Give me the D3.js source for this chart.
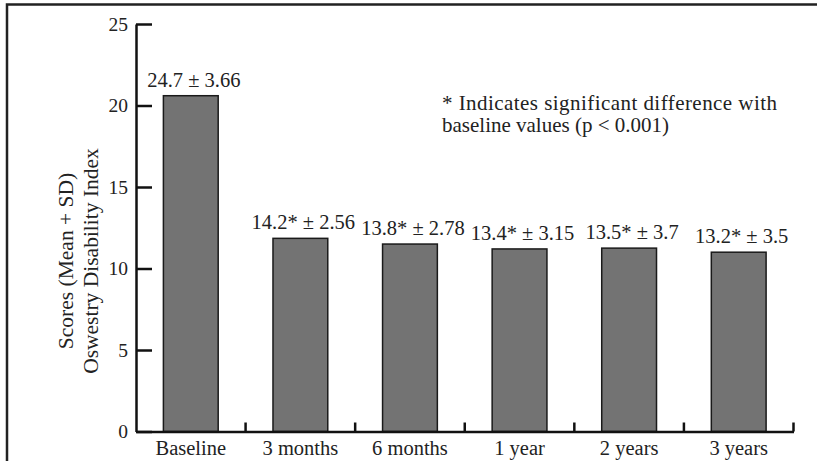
<!DOCTYPE html>
<html>
<head>
<meta charset="utf-8">
<script src="https://cdn.jsdelivr.net/npm/d3@7"></script>
<style>
  body { margin: 0; background: #fff; }
  svg text { font-family: "Liberation Serif", "Times New Roman", serif; fill: #222; }
</style>
</head>
<body>
<div id="chart"></div>
<script>
// chart values
var categories = ['Baseline', '3 months', '6 months', '1 year', '2 years', '3 years'];
var barValues = [20.6, 11.85, 11.5, 11.2, 11.25, 11.0];
var barLabels = ['24.7 \u00b1 3.66', '14.2* \u00b1 2.56', '13.8* \u00b1 2.78', '13.4* \u00b1 3.15', '13.5* \u00b1 3.7', '13.2* \u00b1 3.5'];
var yTicks = [0, 5, 10, 15, 20, 25];
var titleLines = ['Scores (Mean + SD)', 'Oswestry Disability Index'];
var noteLines = ['* Indicates significant difference with', 'baseline values (p < 0.001)'];

var width = 817, height = 461;
var plotLeft = 136, plotRight = 793.5, plotTop = 24, plotBottom = 431.5;

var svg = d3.select('#chart')
	.append('svg')
	.attr('width', width)
	.attr('height', height);

// outer frame (only top and left show in the crop)
svg.append('path')
	.attr('d', 'M7,' + height + 'V4.5H' + width)
	.attr('fill', 'none')
	.attr('stroke', '#222')
	.attr('stroke-width', 2.5);

var x = d3.scaleBand()
	.domain(categories)
	.range([plotLeft, plotRight])
	.paddingInner(0.5)
	.paddingOuter(0.25);

var y = d3.scaleLinear()
	.domain([0, 25])
	.range([plotBottom, plotTop]);

// bars
svg.selectAll('rect.bar')
	.data(barValues)
	.enter()
	.append('rect')
	.attr('class', 'bar')
	.attr('x', function(d,i) { return x(categories[i]); })
	.attr('y', function(d) { return y(d); })
	.attr('width', x.bandwidth())
	.attr('height', function(d) { return y(0) - y(d); })
	.style('fill', '#737373')
	.style('stroke', '#1a1a1a')
	.style('stroke-width', 1.5);

// value labels over the bars
svg.selectAll('text.barLabel')
	.data(barValues)
	.enter()
	.append('text')
	.attr('class', 'barLabel')
	.attr('x', function(d,i) { return x(categories[i]) + x.bandwidth()/2 + 3; })
	.attr('y', function(d) { return y(d) - 9; })
	.attr('text-anchor', 'middle')
	.style('font-size', '20.5px')
	.text(function(d,i) { return barLabels[i]; });

// y axis, ticks pointing inward
var yAxis = svg.append('g')
	.attr('transform', 'translate(' + plotLeft + ',0)')
	.call(d3.axisLeft(y).tickValues(yTicks).tickSizeInner(-16).tickSizeOuter(0).tickPadding(8));
yAxis.select('.domain').attr('stroke', '#111').attr('stroke-width', 2.5);
yAxis.selectAll('.tick line').attr('stroke', '#111').attr('stroke-width', 2.5);
yAxis.selectAll('.tick text').style('font-size', '19.5px').attr('fill', '#222').attr('font-family', null);

// x axis: labels at band centres, ticks between bands
var xAxis = svg.append('g')
	.attr('transform', 'translate(0,' + plotBottom + ')')
	.call(d3.axisBottom(x).tickSize(0).tickPadding(9));
xAxis.select('.domain').attr('stroke', '#111').attr('stroke-width', 2.5);
xAxis.selectAll('.tick text').style('font-size', '20.5px').attr('fill', '#222').attr('font-family', null);

var step = x.step();
xAxis.selectAll('line.sep')
	.data(categories)
	.enter()
	.append('line')
	.attr('class', 'sep')
	.attr('x1', function(d) { return x(d) + x.bandwidth() + step*0.25; })
	.attr('x2', function(d) { return x(d) + x.bandwidth() + step*0.25; })
	.attr('y1', 0)
	.attr('y2', -9)
	.attr('stroke', '#111')
	.attr('stroke-width', 2.5);

// y title, two rotated lines
svg.selectAll('text.yTitle')
	.data(titleLines)
	.enter()
	.append('text')
	.attr('class', 'yTitle')
	.attr('transform', function(d,i) { return 'translate(' + (73 + i*25) + ',261) rotate(-90)'; })
	.attr('text-anchor', 'middle')
	.style('font-size', '21.5px')
	.text(function(d) { return d; });

// note, first line justified
svg.append('text')
	.attr('x', 442)
	.attr('y', 110)
	.attr('textLength', 335)
	.attr('lengthAdjust', 'spacing')
	.style('font-size', '21px')
	.text(noteLines[0]);
svg.append('text')
	.attr('x', 442)
	.attr('y', 132)
	.style('font-size', '21px')
	.text(noteLines[1]);
</script>
</body>
</html>
